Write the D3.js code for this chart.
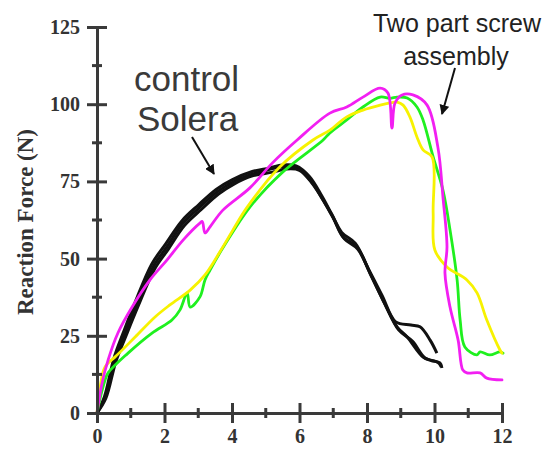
<!DOCTYPE html>
<html>
<head>
<meta charset="utf-8">
<script src="https://cdn.jsdelivr.net/npm/d3@7"></script>
<style>
  body { margin: 0; background: #fff; }
  svg { display: block; }
  .tick text { font-family: "Liberation Serif", "Times New Roman", serif; font-weight: bold; }
</style>
</head>
<body>
<div id="chart"></div>
<script>
// ---- data (displacement, reaction force) ----
const xTicks = [0, 2, 4, 6, 8, 10, 12];
const xMinor = [1, 3, 5, 7, 9, 11];
const yTicks = [0, 25, 50, 75, 100, 125];
const yMinor = [12.5, 37.5, 62.5, 87.5, 112.5];

// control Solera (black, several overlapping runs)
const control1 = [[0,0],[0.24,5],[0.53,17.2],[0.83,25.9],[1.19,35.6],[1.66,47.3],[2.07,53.8],[2.55,61.5],[3.05,66.7],[3.56,71.6],[4.03,74.8],[4.53,77.1],[5.0,78.5],[5.42,79.7],[5.93,79.3],[6.31,75.5],[6.7,69],[6.99,63.5],[7.29,57],[7.7,53.8],[8.09,45.3],[8.47,36.6],[8.89,27.9],[9.19,24.6],[9.66,18.1],[9.9,17],[10.16,16.2],[10.22,14.6]];
const control2 = [[0,0],[0.22,5.3],[0.5,17.7],[0.8,26.6],[1.15,36.4],[1.62,48.2],[2.03,54.7],[2.52,62.3],[3.02,67.5],[3.53,72.4],[4.0,75.5],[4.6,78.2],[5.1,79.3],[5.5,80.3],[5.9,80],[6.3,76.5],[6.65,70.5],[6.95,64.5],[7.25,58.5],[7.65,55],[8.05,46.5],[8.45,38],[8.85,29.5],[9.3,28.5],[9.57,27.9],[9.87,23.6],[10.07,19.4]];
const control3 = [[0,0],[0.26,4.7],[0.56,16.7],[0.87,25.3],[1.23,34.9],[1.7,46.5],[2.11,53],[2.59,60.7],[3.09,65.9],[3.6,70.9],[4.07,74.2],[4.58,76.7],[5.2,78],[5.6,79],[6.0,78.6],[6.38,74.3],[6.74,68.2],[7.03,62.5],[7.33,56.4],[7.73,53],[8.12,44.5],[8.52,35.6],[8.93,27],[9.35,23.2],[9.72,17.8],[10.1,16.4],[10.2,15]];

// two part screw assembly (coloured runs)
const screwGreen = [[0,0],[0.12,6],[0.24,10.7],[0.33,13],[0.92,19.4],[1.63,25.9],[2.22,30.1],[2.46,33.4],[2.67,38.9],[2.76,34.3],[3.05,37.6],[3.2,43.1],[3.35,46.3],[3.73,53.5],[4.53,66.7],[5.5,78],[6.7,88.4],[6.9,90.7],[7.4,94.9],[7.88,99.1],[8.39,102.3],[8.68,101.9],[8.89,102.3],[9.19,102],[9.48,99.1],[9.66,94.9],[9.96,82.9],[10.25,72.2],[10.46,59.3],[10.67,43.1],[10.76,30.1],[10.9,21.4],[11.26,18.8],[11.35,19.8],[11.64,18.8],[11.94,19.8],[12.03,19.4]];
const screwYellow = [[0,0],[0.2,14],[0.33,16.2],[0.53,18.1],[1.13,24.6],[1.72,31.1],[2.16,35],[2.76,39.8],[3.2,44.7],[3.73,53.8],[4.03,59.3],[4.44,66.5],[5.4,79.5],[6.4,88.4],[6.9,91.6],[7.4,95.9],[7.88,98.1],[8.39,99.7],[8.68,100.4],[8.89,100.7],[9.07,99.7],[9.27,95.9],[9.48,89.4],[9.66,85.2],[9.93,82.9],[9.96,64.8],[10.01,52.8],[10.37,47.3],[10.96,43.1],[11.26,38.9],[11.55,30.1],[11.94,20.4],[12,19.4]];
const screwMagenta = [[0,0],[0.15,9.7],[0.33,17.2],[0.62,25.9],[1.04,34.3],[1.57,43.1],[2.07,49.5],[2.55,56],[3.05,61.5],[3.12,62],[3.2,58.3],[3.35,60.3],[3.73,65.7],[4.53,72.9],[5.2,81],[5.93,88.4],[6.9,97.1],[7.4,99.1],[7.88,102.3],[8.39,105.2],[8.62,103.6],[8.74,92.3],[8.83,100.4],[9.04,103],[9.36,103],[9.78,99.7],[10.1,86.1],[10.25,70],[10.37,53.8],[10.31,45.3],[10.46,34.3],[10.7,23.6],[10.84,13.9],[10.96,13],[11.35,13],[11.55,11.3],[12,10.7]];

const yLabel = "Reaction Force (N)";

// ---- set up ----
const width = 551, height = 451;
const axisColor = "#3a3a3a";

const svg = d3.select("#chart")
    .append("svg")
    .attr("width", width)
    .attr("height", height);

svg.append("defs").append("marker")
    .attr("id", "arrow")
    .attr("viewBox", "0 0 10 10")
    .attr("refX", 9).attr("refY", 5)
    .attr("markerWidth", 5).attr("markerHeight", 5)
    .attr("orient", "auto")
    .append("path")
    .attr("d", "M0,0 L10,5 L0,10 Z")
    .attr("fill", "#111");

const xScale = d3.scaleLinear().domain([0, 12]).range([97, 502]);
const yScale = d3.scaleLinear().domain([0, 125]).range([413, 27]);

const line = d3.line()
    .x(d => xScale(d[0]))
    .y(d => yScale(d[1]))
    .curve(d3.curveCatmullRom.alpha(0.5));

// ---- curves ----
[control1, control2, control3].forEach(c => {
    svg.append("path")
        .datum(c)
        .attr("fill", "none")
        .attr("stroke", "#111")
        .attr("stroke-width", 3)
        .attr("stroke-linejoin", "round")
        .attr("d", line);
});

const colored = [
    { data: screwGreen, color: "#1ff01f" },
    { data: screwYellow, color: "#f7f200" },
    { data: screwMagenta, color: "#f21ff2" }
];
colored.forEach(s => {
    svg.append("path")
        .datum(s.data)
        .attr("fill", "none")
        .attr("stroke", s.color)
        .attr("stroke-width", 2.8)
        .attr("stroke-linejoin", "round")
        .attr("stroke-linecap", "round")
        .attr("d", line);
});

// ---- axes ----
const xAxis = svg.append("g")
    .attr("transform", `translate(0,${yScale(0)})`)
    .call(d3.axisBottom(xScale).tickValues(xTicks).tickSizeOuter(0).tickSize(10).tickPadding(6));
xAxis.selectAll(".tick line").attr("y1", -10);

svg.append("g")
    .attr("transform", `translate(0,${yScale(0)})`)
    .selectAll("line")
    .data(xMinor)
    .join("line")
    .attr("x1", d => xScale(d)).attr("x2", d => xScale(d))
    .attr("y1", -5).attr("y2", 5)
    .attr("stroke", axisColor).attr("stroke-width", 3);

const yAxis = svg.append("g")
    .attr("transform", `translate(${xScale(0)},0)`)
    .call(d3.axisLeft(yScale).tickValues(yTicks).tickSizeOuter(0).tickSize(10).tickPadding(7));
yAxis.selectAll(".tick line").attr("x1", 10);

svg.append("g")
    .attr("transform", `translate(${xScale(0)},0)`)
    .selectAll("line")
    .data(yMinor)
    .join("line")
    .attr("y1", d => yScale(d)).attr("y2", d => yScale(d))
    .attr("x1", -5).attr("x2", 5)
    .attr("stroke", axisColor).attr("stroke-width", 3);

[xAxis, yAxis].forEach(a => {
    a.select(".domain").attr("stroke", axisColor).attr("stroke-width", 3);
    a.selectAll(".tick line").attr("stroke", axisColor).attr("stroke-width", 3);
    a.selectAll(".tick text").attr("fill", "#333").style("font-size", "20px");
});

svg.append("text")
    .attr("transform", "rotate(-90)")
    .attr("x", -222)
    .attr("y", 33)
    .attr("text-anchor", "middle")
    .style("font-family", '"Liberation Serif", "Times New Roman", serif')
    .style("font-weight", "bold")
    .style("font-size", "23px")
    .attr("fill", "#333")
    .text(yLabel);

// ---- annotations ----
const sans = '"Liberation Sans", Arial, sans-serif';
svg.append("text")
    .attr("x", 134).attr("y", 91)
    .style("font-family", sans).style("font-size", "35px")
    .attr("fill", "#3a3a3a")
    .text("control");
svg.append("text")
    .attr("x", 137).attr("y", 131)
    .style("font-family", sans).style("font-size", "35px")
    .attr("fill", "#3a3a3a")
    .text("Solera");
svg.append("line")
    .attr("x1", 192).attr("y1", 137).attr("x2", 214).attr("y2", 174)
    .attr("stroke", "#111").attr("stroke-width", 2)
    .attr("marker-end", "url(#arrow)");

svg.append("text")
    .attr("x", 457).attr("y", 32)
    .attr("text-anchor", "middle")
    .style("font-family", sans).style("font-size", "25px")
    .attr("fill", "#222")
    .text("Two part screw");
svg.append("text")
    .attr("x", 456).attr("y", 65)
    .attr("text-anchor", "middle")
    .style("font-family", sans).style("font-size", "25px")
    .attr("fill", "#222")
    .text("assembly");
svg.append("line")
    .attr("x1", 455).attr("y1", 68).attr("x2", 442).attr("y2", 114)
    .attr("stroke", "#111").attr("stroke-width", 2)
    .attr("marker-end", "url(#arrow)");
</script>
</body>
</html>
